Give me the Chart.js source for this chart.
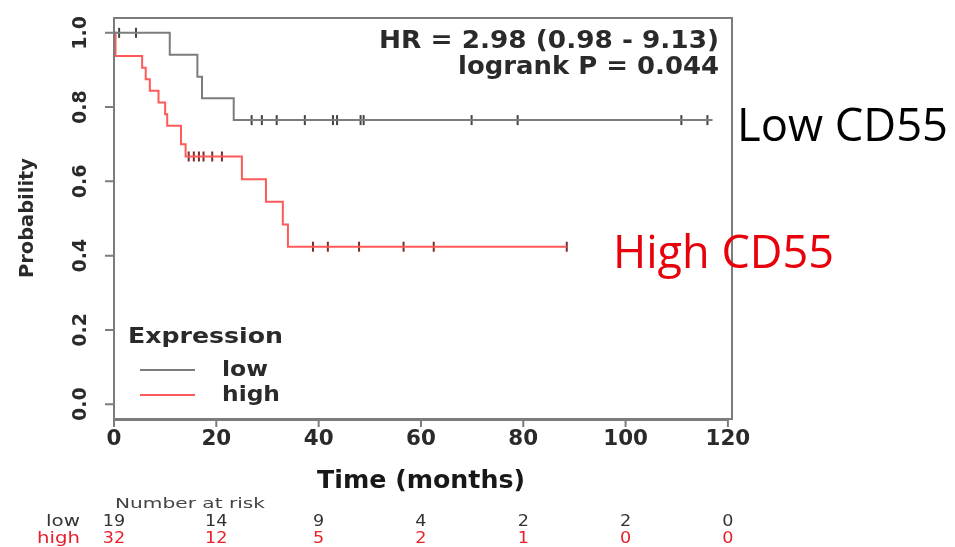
<!DOCTYPE html>
<html>
<head>
<meta charset="utf-8">
<script src="https://cdn.jsdelivr.net/npm/chart.js@4.4.0/dist/chart.umd.min.js"></script>
<style>
  html, body { margin: 0; padding: 0; background: #fff; }
  canvas { display: block; }
</style>
</head>
<body>
<canvas id="km" width="955" height="547"></canvas>
<script>
// Kaplan-Meier steps (time in months, survival after the step)
const lowTimes = [0, 10.9, 16.3, 17.2, 23.4, 117];
const lowSurv = [1, 0.941, 0.882, 0.824, 0.765, 0.765];
const highTimes = [0, 0.3, 5.5, 6.2, 7.0, 8.7, 10.0, 10.4, 13.1, 14.0, 25.0, 29.7, 33.0, 34.0, 88.5];
const highSurv = [1, 0.9375, 0.906, 0.875, 0.844, 0.8125, 0.781, 0.75, 0.70, 0.667, 0.606, 0.545, 0.484, 0.424, 0.424];

// censored observations (months)
const lowCensor = [1.0, 4.3, 26.9, 28.9, 31.8, 37.3, 42.8, 43.6, 48.2, 48.8, 69.9, 78.9, 110.9, 116.0];
const highCensor = [14.6, 15.6, 16.6, 17.5, 19.2, 21.1, 38.9, 41.8, 47.9, 56.6, 62.5, 88.5];

const xTicks = [0, 20, 40, 60, 80, 100, 120];
const yTicks = [0, 0.2, 0.4, 0.6, 0.8, 1.0];
const yTickLabels = ['0.0', '0.2', '0.4', '0.6', '0.8', '1.0'];
const riskLow = [19, 14, 9, 4, 2, 2, 0];
const riskHigh = [32, 12, 5, 2, 1, 0, 0];

const FONT = '"DejaVu Sans", sans-serif';
const GREY = '#7c7c7c';
const RED = '#ff5a5a';
const INK = '#2a2a2a';

function survAt(times, surv, t) {
  let s = surv[0];
  for (let i = 0; i < times.length; i++) {
    if (times[i] <= t) s = surv[i];
  }
  return s;
}

// text with a horizontal stretch (sx) or fitted to a width (w)
function txt(ctx, s, x, y, font, color, align, sx, w, base) {
  ctx.save();
  ctx.font = font;
  ctx.fillStyle = color;
  ctx.textAlign = align;
  ctx.textBaseline = base || 'middle';
  let k = sx || 1;
  if (w) k = w / ctx.measureText(s).width;
  ctx.translate(x, y);
  ctx.scale(k, 1);
  ctx.fillText(s, 0, 0);
  ctx.restore();
}

function vtxt(ctx, s, x, y, font, color, w) {
  ctx.save();
  ctx.font = font;
  ctx.fillStyle = color;
  ctx.textAlign = 'center';
  ctx.textBaseline = 'middle';
  ctx.translate(x, y);
  ctx.rotate(-Math.PI / 2);
  let k = 1;
  if (w) k = w / ctx.measureText(s).width;
  ctx.scale(k, 1);
  ctx.fillText(s, 0, 0);
  ctx.restore();
}

const decorations = {
  id: 'decorations',
  afterDraw(chart) {
    const ctx = chart.ctx;
    const xs = chart.scales.x, ys = chart.scales.y;
    const a = chart.chartArea;

    // box
    ctx.save();
    ctx.strokeStyle = GREY;
    ctx.lineWidth = 2;
    ctx.strokeRect(a.left, a.top, a.right - a.left, a.bottom - a.top);

    // x axis
    const x0 = xs.getPixelForValue(xTicks[0]);
    const x1 = xs.getPixelForValue(xTicks[xTicks.length - 1]);
    ctx.beginPath();
    ctx.moveTo(x0, a.bottom + 1);
    ctx.lineTo(x1, a.bottom + 1);
    xTicks.forEach(v => {
      const px = xs.getPixelForValue(v);
      ctx.moveTo(px, a.bottom);
      ctx.lineTo(px, a.bottom + 8);
    });
    // y ticks
    yTicks.forEach(v => {
      const py = ys.getPixelForValue(v);
      ctx.moveTo(a.left, py);
      ctx.lineTo(a.left - 9, py);
    });
    ctx.stroke();
    ctx.restore();

    xTicks.forEach(v => {
      txt(ctx, String(v), xs.getPixelForValue(v), 440, 'bold 21px ' + FONT, INK, 'center', 1.02);
    });
    yTicks.forEach((v, i) => {
      vtxt(ctx, yTickLabels[i], 81, ys.getPixelForValue(v), 'bold 19px ' + FONT, INK);
    });

    txt(ctx, 'Time (months)', 421, 482, 'bold 24px ' + FONT, '#181818', 'center', null, 208);
    vtxt(ctx, 'Probability', 28, 218, 'bold 20px ' + FONT, INK, 120);

    // HR annotation
    txt(ctx, 'HR = 2.98 (0.98 - 9.13)', 719, 42, 'bold 24px ' + FONT, INK, 'right', null, 340);
    txt(ctx, 'logrank P = 0.044', 719, 68, 'bold 24px ' + FONT, INK, 'right', null, 261);

    // legend
    txt(ctx, 'Expression', 128, 337, 'bold 22px ' + FONT, INK, 'left', null, 155);
    ctx.save();
    ctx.lineWidth = 2;
    ctx.strokeStyle = GREY;
    ctx.beginPath(); ctx.moveTo(140, 370); ctx.lineTo(195, 370); ctx.stroke();
    ctx.strokeStyle = RED;
    ctx.beginPath(); ctx.moveTo(140, 395); ctx.lineTo(195, 395); ctx.stroke();
    ctx.restore();
    txt(ctx, 'low', 222, 370, 'bold 22px ' + FONT, INK, 'left', null, 46);
    txt(ctx, 'high', 222, 395, 'bold 22px ' + FONT, INK, 'left', null, 58);

    // number at risk table
    txt(ctx, 'Number at risk', 115, 504, '14px ' + FONT, '#444', 'left', null, 150);
    txt(ctx, 'low', 80, 522, '15px ' + FONT, '#333', 'right', null, 34);
    txt(ctx, 'high', 80, 539, '15px ' + FONT, '#e8202a', 'right', null, 43);
    xTicks.forEach((v, i) => {
      const px = xs.getPixelForValue(v);
      txt(ctx, String(riskLow[i]), px, 522, '16px ' + FONT, '#333', 'center', 1.1);
      txt(ctx, String(riskHigh[i]), px, 539, '16px ' + FONT, '#e8202a', 'center', 1.1);
    });

    // group labels
    txt(ctx, 'Low CD55', 737, 141, '46px "Open Sans", sans-serif', '#000', 'left', null, 211, 'alphabetic');
    txt(ctx, 'High CD55', 613, 268, '46px "Open Sans", sans-serif', '#e8000b', 'left', null, 221, 'alphabetic');
  }
};

const pts = (t, s) => t.map((v, i) => ({ x: v, y: s[i] }));

new Chart(document.getElementById('km'), {
  type: 'line',
  data: {
    datasets: [
      {
        label: 'low',
        data: pts(lowTimes, lowSurv),
        stepped: 'before',
        borderColor: GREY,
        borderWidth: 2,
        pointRadius: 0,
        fill: false
      },
      {
        label: 'high',
        data: pts(highTimes, highSurv),
        stepped: 'before',
        borderColor: RED,
        borderWidth: 2,
        pointRadius: 0,
        fill: false
      },
      {
        label: 'low censored',
        data: lowCensor.map(t => ({ x: t, y: survAt(lowTimes, lowSurv, t) })),
        showLine: false,
        pointStyle: 'line',
        rotation: 90,
        pointRadius: 5,
        pointBorderWidth: 2,
        pointBorderColor: '#444'
      },
      {
        label: 'high censored',
        data: highCensor.map(t => ({ x: t, y: survAt(highTimes, highSurv, t) })),
        showLine: false,
        pointStyle: 'line',
        rotation: 90,
        pointRadius: 5,
        pointBorderWidth: 2,
        pointBorderColor: '#7a2a2a'
      }
    ]
  },
  options: {
    responsive: false,
    animation: false,
    layout: { padding: { left: 114, right: 223, top: 18, bottom: 128 } },
    plugins: { legend: { display: false }, tooltip: { enabled: false } },
    scales: {
      x: { type: 'linear', min: 0, max: 120.8, display: false },
      y: { type: 'linear', min: -0.04, max: 1.04, display: false }
    }
  },
  plugins: [decorations]
});
</script>
</body>
</html>
